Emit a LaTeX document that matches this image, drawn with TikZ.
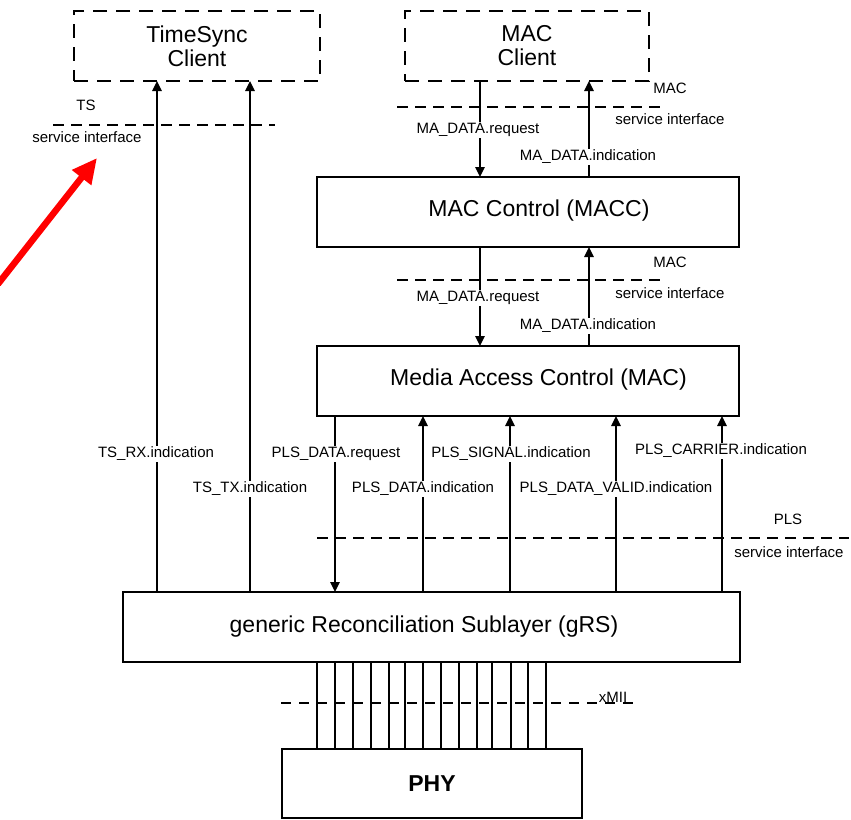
\documentclass[tikz,border=0pt]{standalone}
\usepackage{fontspec}
\setmainfont{Liberation Sans}
\usetikzlibrary{arrows.meta}
\begin{document}
\begin{tikzpicture}[x=1pt,y=-1pt,
  box/.style={draw, line width=1.5pt, inner sep=0pt, outer sep=0pt, font=\fontsize{23}{24}\selectfont},
  dbox/.style={box, dash pattern=on 14pt off 9pt, align=center},
  btext/.style={inner sep=0pt, font=\fontsize{23}{24}\selectfont},
  sig/.style={line width=1.3pt, -{Triangle[length=10pt,width=9.5pt]}},
  wire/.style={line width=1.3pt},
  iface/.style={line width=1.5pt, dash pattern=on 11pt off 7pt},
  lbl/.style={fill=white, inner sep=1pt, font=\fontsize{15}{16}\selectfont},
  txt/.style={inner sep=0pt, font=\fontsize{15}{16}\selectfont}]
\useasboundingbox[fill=white] (0,0) rectangle (851,819);

% boxes
\node[dbox, minimum width=246pt, minimum height=70pt] (ts) at (197,46) {TimeSync\\Client};
\node[dbox, minimum width=244pt, minimum height=70pt] (mc) at (527,46) {MAC\\Client};
\node[box, minimum width=422pt, minimum height=70pt] (macc) at (528,212) {};
\node[box, minimum width=422pt, minimum height=70pt] (mac) at (528,381) {};
\node[box, minimum width=617pt, minimum height=70pt] (grs) at (431.5,627) {};
\node[box, minimum width=300pt, minimum height=69pt, font=\fontsize{23}{24}\selectfont\bfseries] (phy) at (432,783.5) {PHY};
\node[btext] (macct) at (539,211) {MAC Control (MACC)};
\node[btext] (mact) at (538.5,380) {Media Access Control (MAC)};
\node[btext] (grst) at (424,627) {generic Reconciliation Sublayer (gRS)};

% x positions of connectors
\coordinate (xrx) at (157,0);
\coordinate (xtx) at (250,0);
\coordinate (xmreq) at (480,0);
\coordinate (xmind) at (589,0);
\coordinate (xpreq) at (335,0);
\coordinate (xpind) at (423,0);
\coordinate (xpsig) at (510,0);
\coordinate (xpval) at (616,0);
\coordinate (xpcar) at (722,0);

% service interface lines
\draw[iface] (53,125) -- (275,125);
\draw[iface] (397,107) -- (663,107);
\draw[iface] (397,280) -- (663,280);
\draw[iface] (317,538) -- (849,538);
\draw[line width=1.5pt, dash pattern=on 10pt off 8pt] (281,703) -- (633,703);

% connectors
\draw[sig] (xrx |- grs.north) -- (xrx |- ts.south);
\draw[sig] (xtx |- grs.north) -- (xtx |- ts.south);
\draw[sig] (xmreq |- mc.south) -- (xmreq |- macc.north);
\draw[sig] (xmind |- macc.north) -- (xmind |- mc.south);
\draw[sig] (xmreq |- macc.south) -- (xmreq |- mac.north);
\draw[sig] (xmind |- mac.north) -- (xmind |- macc.south);
\draw[sig] (xpreq |- mac.south) -- (xpreq |- grs.north);
\draw[sig] (xpind |- grs.north) -- (xpind |- mac.south);
\draw[sig] (xpsig |- grs.north) -- (xpsig |- mac.south);
\draw[sig] (xpval |- grs.north) -- (xpval |- mac.south);
\draw[sig] (xpcar |- grs.north) -- (xpcar |- mac.south);

\foreach \i/\x in {0/317,1/335,2/353,3/371,4/389,5/405,6/423,7/441,8/459,9/477,10/492,11/511,12/528,13/546}{
  \coordinate (w\i) at (\x,700);
  \draw[wire] (w\i |- grs.south) -- (w\i |- phy.north);
}

% connector labels
\node[lbl] (l1) at (478,130) {MA\_DATA.request};
\node[lbl] (l2) at (588,157) {MA\_DATA.indication};
\node[lbl] (l3) at (478,298) {MA\_DATA.request};
\node[lbl] (l4) at (588,326) {MA\_DATA.indication};
\node[lbl] (l5) at (156,454) {TS\_RX.indication};
\node[lbl] (l6) at (250,489) {TS\_TX.indication};
\node[lbl] (l7) at (336,454) {PLS\_DATA.request};
\node[lbl] (l8) at (423,489) {PLS\_DATA.indication};
\node[lbl] (l9) at (511,454) {PLS\_SIGNAL.indication};
\node[lbl] (l10) at (616,489) {PLS\_DATA\_VALID.indication};
\node[lbl] (l11) at (721,451) {PLS\_CARRIER.indication};

% interface labels
\node[txt] (t1) at (86,105) {TS};
\node[txt] (t2) at (87,137) {service interface};
\node[txt] (t3) at (670,88) {MAC};
\node[txt] (t4) at (670,119) {service interface};
\node[txt] (t5) at (670,262) {MAC};
\node[txt] (t6) at (670,293) {service interface};
\node[txt] (t7) at (788,519) {PLS};
\node[txt] (t8) at (789,552) {service interface};
\node[txt] (t9) at (613,697) {xMII};

% red pointer
\coordinate (ra) at (-2,284);
\coordinate (rb) at (97,158);
\draw[red, line width=6.5pt, -{Triangle[length=25pt,width=23pt]}] (ra) -- (rb);
\end{tikzpicture}
\end{document}
